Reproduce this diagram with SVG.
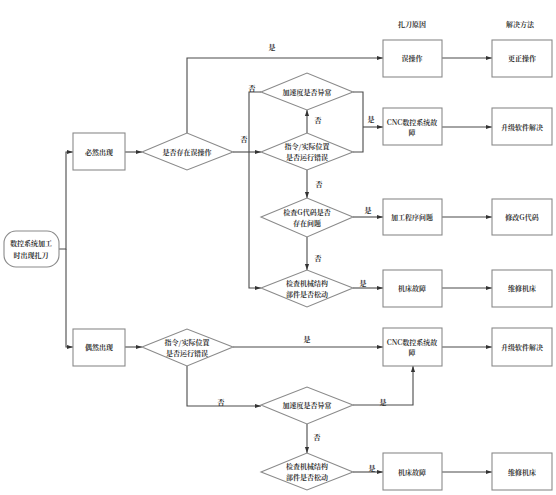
<svg xmlns="http://www.w3.org/2000/svg" width="556" height="495" viewBox="0 0 556 495">
<style>
.bx{fill:#fff;stroke:#8a8a8a;stroke-width:1.1}
.dm{fill:#fff;stroke:#8a8a8a;stroke-width:1.1}
.ln{fill:none;stroke:#4a4a4a;stroke-width:1.1}
text{font-family:"Noto Serif CJK SC","Noto Sans CJK SC","Liberation Serif",serif;font-size:7px;font-weight:bold;fill:#333;text-anchor:middle;dominant-baseline:central}
</style>
<defs>
<marker id="ar" viewBox="0 0 10 10" refX="10" refY="5" markerWidth="6" markerHeight="6" markerUnits="userSpaceOnUse" orient="auto">
<path d="M0,1.5 L10,5 L0,8.5 z" fill="#333"/>
</marker>
</defs>
<rect width="556" height="495" fill="#fff"/>
<text x="412" y="24">扎刀原因</text>
<text x="520" y="24">解决方法</text>

<g id="connectors">
<path class="ln" d="M59,249 H66 V152 H73" marker-end="url(#ar)"/>
<path class="ln" d="M66,249 V347 H73" marker-end="url(#ar)"/>
<path class="ln" d="M125,152 H142" marker-end="url(#ar)"/>
<path class="ln" d="M125,347 H142" marker-end="url(#ar)"/>
<path class="ln" d="M187,133 V58 H383" marker-end="url(#ar)"/>
<path class="ln" d="M233,152 H261" marker-end="url(#ar)"/>
<path class="ln" d="M261,92 H249 V288 H261" marker-end="url(#ar)"/>
<path class="ln" d="M307,133 V110" marker-end="url(#ar)"/>
<path class="ln" d="M353,92 H363 V152 H353"/>
<path class="ln" d="M363,127 H383" marker-end="url(#ar)"/>
<path class="ln" d="M307,170 V198" marker-end="url(#ar)"/>
<path class="ln" d="M353,217 H383" marker-end="url(#ar)"/>
<path class="ln" d="M307,237 V270" marker-end="url(#ar)"/>
<path class="ln" d="M353,288 H383" marker-end="url(#ar)"/>
<path class="ln" d="M233,347 H383" marker-end="url(#ar)"/>
<path class="ln" d="M187,366 V406 H261" marker-end="url(#ar)"/>
<path class="ln" d="M353,405 H413 V366" marker-end="url(#ar)"/>
<path class="ln" d="M307,424 V453" marker-end="url(#ar)"/>
<path class="ln" d="M353,472 H383" marker-end="url(#ar)"/>
<path class="ln" d="M442,58 H492" marker-end="url(#ar)"/>
<path class="ln" d="M442,127 H492" marker-end="url(#ar)"/>
<path class="ln" d="M442,217 H492" marker-end="url(#ar)"/>
<path class="ln" d="M442,288 H492" marker-end="url(#ar)"/>
<path class="ln" d="M442,347 H492" marker-end="url(#ar)"/>
<path class="ln" d="M442,472 H492" marker-end="url(#ar)"/>
<text x="272" y="47">是</text>
<text x="244" y="139">否</text>
<text x="252" y="88">否</text>
<text x="318" y="120">否</text>
<text x="371" y="119">是</text>
<text x="319" y="184">否</text>
<text x="368" y="210">是</text>
<text x="318" y="258">否</text>
<text x="363" y="283">是</text>
<text x="307" y="339">是</text>
<text x="221" y="402">否</text>
<text x="383" y="402">是</text>
<text x="317" y="437">否</text>
<text x="372" y="468">是</text>
</g>

<g id="start"><rect class="bx" x="4" y="231" width="55" height="36" rx="12"/><text x="31" y="243">数控系统加工</text><text x="31" y="255">时出现扎刀</text></g>
<g id="bixian"><rect class="bx" x="73" y="133" width="52" height="37"/><text x="99" y="152">必然出现</text></g>
<g id="ouran"><rect class="bx" x="73" y="329" width="52" height="37"/><text x="99" y="347">偶然出现</text></g>
<g id="d-wucaozuo"><polygon class="dm" points="142,152 187,133 233,152 187,170"/><text x="187" y="152">是否存在误操作</text></g>
<g id="d-jiasu1"><polygon class="dm" points="261,92 307,73 353,92 307,110"/><text x="307" y="92">加速度是否异常</text></g>
<g id="d-zhiling1"><polygon class="dm" points="261,152 307,133 353,152 307,170"/><text x="307" y="146">指令/实际位置</text><text x="307" y="157">是否运行错误</text></g>
<g id="d-gcode"><polygon class="dm" points="261,217 307,198 353,217 307,237"/><text x="307" y="212">检查G代码是否</text><text x="307" y="223">存在问题</text></g>
<g id="d-jixie1"><polygon class="dm" points="261,288 307,270 353,288 307,307"/><text x="307" y="283">检查机械结构</text><text x="307" y="294">部件是否松动</text></g>
<g id="d-zhiling2"><polygon class="dm" points="142,347 187,329 233,347 187,366"/><text x="187" y="342">指令/实际位置</text><text x="187" y="353">是否运行错误</text></g>
<g id="d-jiasu2"><polygon class="dm" points="261,405 307,387 353,405 307,424"/><text x="307" y="405">加速度是否异常</text></g>
<g id="d-jixie2"><polygon class="dm" points="261,472 307,453 353,472 307,490"/><text x="307" y="466">检查机械结构</text><text x="307" y="477">部件是否松动</text></g>
<g id="r-wucaozuo"><rect class="bx" x="383" y="40" width="59" height="37"/><text x="412" y="58">误操作</text></g>
<g id="r-cnc1"><rect class="bx" x="383" y="108" width="59" height="37"/><text x="412" y="122">CNC数控系统故</text><text x="412" y="132">障</text></g>
<g id="r-jiagong"><rect class="bx" x="383" y="199" width="59" height="36"/><text x="412" y="217">加工程序问题</text></g>
<g id="r-jichuang1"><rect class="bx" x="383" y="270" width="59" height="37"/><text x="412" y="288">机床故障</text></g>
<g id="r-cnc2"><rect class="bx" x="383" y="328" width="59" height="38"/><text x="412" y="342">CNC数控系统故</text><text x="412" y="352">障</text></g>
<g id="r-jichuang2"><rect class="bx" x="383" y="453" width="59" height="37"/><text x="412" y="472">机床故障</text></g>
<g id="s-gengzheng"><rect class="bx" x="492" y="40" width="60" height="37"/><text x="522" y="58">更正操作</text></g>
<g id="s-shengji1"><rect class="bx" x="492" y="108" width="60" height="37"/><text x="522" y="127">升级软件解决</text></g>
<g id="s-xiugai"><rect class="bx" x="492" y="199" width="60" height="36"/><text x="522" y="217">修改G代码</text></g>
<g id="s-weixiu1"><rect class="bx" x="492" y="270" width="60" height="37"/><text x="522" y="288">维修机床</text></g>
<g id="s-shengji2"><rect class="bx" x="492" y="328" width="60" height="38"/><text x="522" y="347">升级软件解决</text></g>
<g id="s-weixiu2"><rect class="bx" x="492" y="453" width="60" height="37"/><text x="522" y="472">维修机床</text></g>
</svg>
